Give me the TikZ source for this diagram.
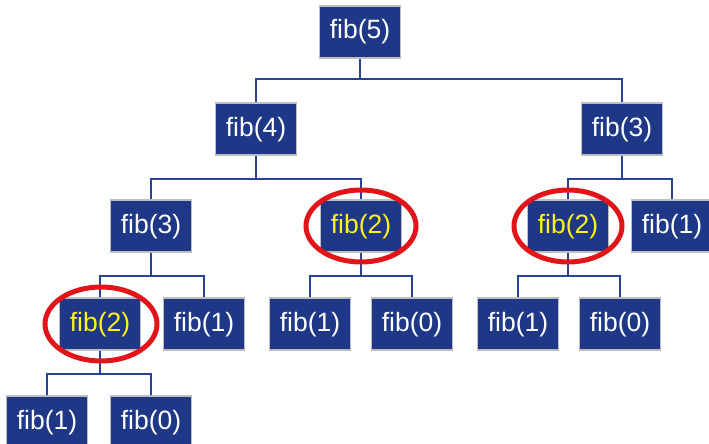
\documentclass[tikz,border=0pt]{standalone}
\usepackage{fontspec}
\setmainfont{Liberation Sans}
\definecolor{boxblue}{RGB}{30,55,135}
\definecolor{lineblue}{RGB}{40,66,150}
\definecolor{boxedge}{RGB}{190,190,190}
\definecolor{hiyellow}{RGB}{250,245,20}
\definecolor{ringred}{RGB}{225,20,25}
\begin{document}
\begin{tikzpicture}[x=1pt,y=-1pt,
  fibbox/.style={draw=boxedge, line width=1.6pt, fill=boxblue, text=white,
    minimum width=81pt, minimum height=52pt, inner sep=0pt,
    font=\fontsize{26.5}{26.5}\selectfont, text height=19pt, text depth=5pt},
  hot/.style={fibbox, text=hiyellow},
  link/.style={draw=lineblue, line width=1.6pt},
  ring/.style={draw=ringred, line width=5pt}]
\useasboundingbox (0,0) rectangle (709,444);
% nodes
\node[fibbox] (f5) at (360,32) {fib(5)};
\node[fibbox] (f4) at (256,129) {fib(4)};
\node[fibbox] (f3a) at (622,129) {fib(3)};
\node[fibbox] (f3) at (151,226) {fib(3)};
\node[hot] (f2a) at (361,226) {fib(2)};
\node[hot] (f2b) at (568,226) {fib(2)};
\node[fibbox] (f1a) at (672,226) {fib(1)};
\node[hot] (f2) at (100,324) {fib(2)};
\node[fibbox] (f1b) at (204,324) {fib(1)};
\node[fibbox] (f1c) at (310,324) {fib(1)};
\node[fibbox] (f0a) at (412,324) {fib(0)};
\node[fibbox] (f1d) at (518,324) {fib(1)};
\node[fibbox] (f0b) at (620,324) {fib(0)};
\node[fibbox] (f1e) at (47,422) {fib(1)};
\node[fibbox] (f0c) at (151,422) {fib(0)};
% connectors
\draw[link] (f5.south) -- ++(0,20) -| (f4.north);
\draw[link] (f5.south) -- ++(0,20) -| (f3a.north);
\draw[link] (f4.south) -- ++(0,23) -| (f3.north);
\draw[link] (f4.south) -- ++(0,23) -| (f2a.north);
\draw[link] (f3a.south) -- ++(0,23) -| (f2b.north);
\draw[link] (f3a.south) -- ++(0,23) -| (f1a.north);
\draw[link] (f3.south) -- ++(0,23) -| (f2.north);
\draw[link] (f3.south) -- ++(0,23) -| (f1b.north);
\draw[link] (f2a.south) -- ++(0,23) -| (f1c.north);
\draw[link] (f2a.south) -- ++(0,23) -| (f0a.north);
\draw[link] (f2b.south) -- ++(0,23) -| (f1d.north);
\draw[link] (f2b.south) -- ++(0,23) -| (f0b.north);
\draw[link] (f2.south) -- ++(0,23) -| (f1e.north);
\draw[link] (f2.south) -- ++(0,23) -| (f0c.north);
% red rings
\draw[ring] (f2a.center) ellipse [x radius=55, y radius=36];
\draw[ring] (f2b.center) ellipse [x radius=54, y radius=36];
\draw[ring] ([xshift=1pt]f2.center) ellipse [x radius=56, y radius=37];
\end{tikzpicture}
\end{document}
